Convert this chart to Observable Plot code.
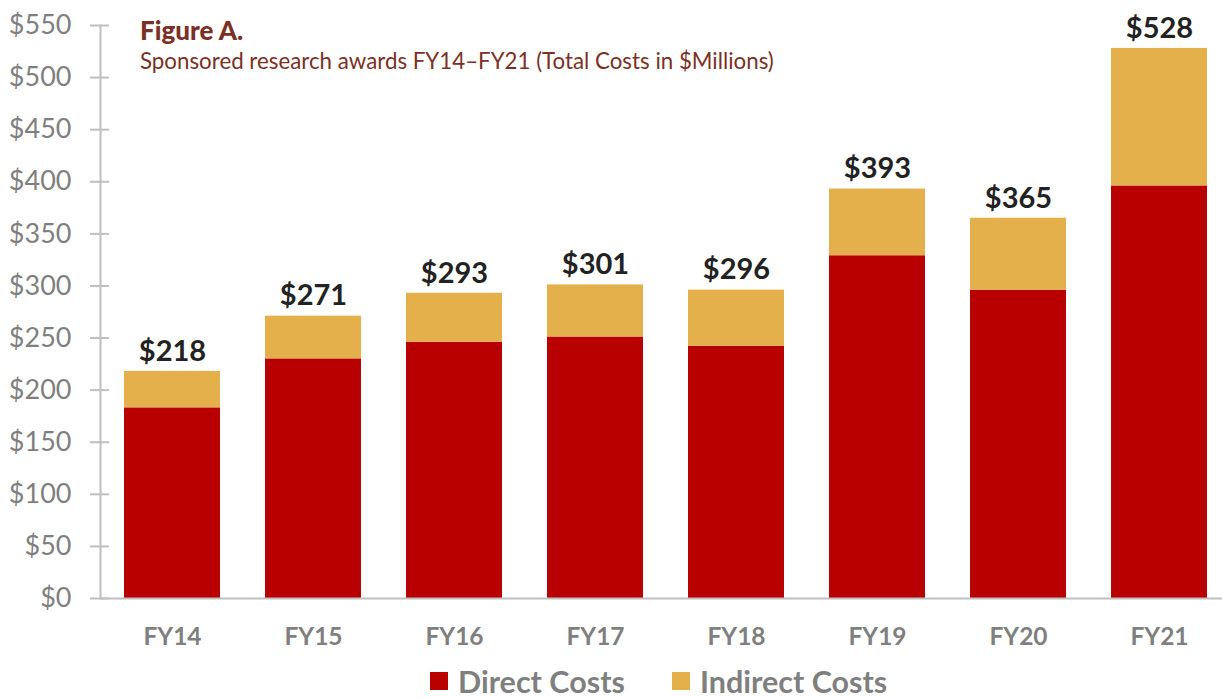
<!DOCTYPE html>
<html>
<head>
<meta charset="utf-8">
<script src="https://cdn.jsdelivr.net/npm/d3@7"></script>
<script src="https://cdn.jsdelivr.net/npm/@observablehq/plot@0.6"></script>
<style>
  body { margin: 0; background: #fff; }
  #wrap { position: relative; width: 1222px; height: 698px; overflow: hidden; font-family: Lato, sans-serif; }
  #title { position: absolute; left: 140px; top: 16px; color: #7B3026; }
  #title .t1 { font-family: Lato, sans-serif; font-weight: 900; font-size: 26px; line-height: 1.1; }
  #title .t2 { font-family: Lato, sans-serif; font-size: 22.3px; margin-top: 4px; line-height: 1.1; }
  #legend { position: absolute; left: 430px; top: 666px; display: flex; align-items: center; color: #7f7f7f; font-weight: bold; font-size: 30.5px; line-height: 1; }
  #legend .sw { width: 18px; height: 18px; display: inline-block; margin-right: 10px; }
  #legend .item { display: flex; align-items: center; margin-right: 47px; }
</style>
</head>
<body>
<div id="wrap">
  <div id="chart"></div>
  <div id="title"><div class="t1">Figure A.</div><div class="t2">Sponsored research awards FY14–FY21 (Total Costs in $Millions)</div></div>
  <div id="legend"></div>
</div>
<script>
const years = ["FY14", "FY15", "FY16", "FY17", "FY18", "FY19", "FY20", "FY21"];
const directCosts = [183, 230, 246, 251, 242, 329, 296, 396];
const indirectCosts = [35, 41, 47, 50, 54, 64, 69, 132];
const totals = [218, 271, 293, 301, 296, 393, 365, 528];
const seriesNames = ["Direct Costs", "Indirect Costs"];
const seriesColors = ["#B80000", "#E3B04B"];
const yTicks = [0, 50, 100, 150, 200, 250, 300, 350, 400, 450, 500, 550];

const rows = [];
years.forEach((y, i) => {
  rows.push({year: y, type: seriesNames[0], value: directCosts[i]});
  rows.push({year: y, type: seriesNames[1], value: indirectCosts[i]});
});
const totalRows = years.map((y, i) => ({year: y, total: totals[i]}));

const plot = Plot.plot({
  width: 1222,
  height: 660,
  marginLeft: 100,
  marginRight: 0,
  marginTop: 25,
  marginBottom: 62,
  style: {fontFamily: "Lato, sans-serif", background: "transparent", overflow: "visible"},
  x: {domain: years, range: [100, 1231], paddingInner: 0.32, paddingOuter: 0.155, label: null},
  y: {domain: [0, 550], label: null},
  color: {domain: seriesNames, range: seriesColors},
  marks: [
    Plot.barY(rows, {x: "year", y: "value", fill: "type"}),
    Plot.ruleY([0], {stroke: "#bfbfbf", strokeWidth: 2}),
    Plot.frame({anchor: "left", stroke: "#bfbfbf", strokeWidth: 2}),
    Plot.axisY({ticks: yTicks, tickSize: 19, dx: 9, tickFormat: () => "", stroke: "#bfbfbf", strokeWidth: 2}),
    Plot.axisY({ticks: yTicks, tickSize: 0, tickPadding: 29, tickFormat: d => "$" + d, fontSize: 27, fill: "#7f7f7f"}),
    Plot.axisX({tickSize: 0, tickPadding: 29, fontSize: 24.5, fontWeight: "bold", fill: "#7f7f7f"}),
    Plot.text(totalRows, {x: "year", y: "total", text: d => "$" + d.total, dy: -20, fontSize: 29, fontWeight: "bold", fill: "#222"})
  ]
});
document.getElementById("chart").appendChild(plot);

const legend = document.getElementById("legend");
seriesNames.forEach((n, i) => {
  const it = document.createElement("div");
  it.className = "item";
  const sw = document.createElement("span");
  sw.className = "sw";
  sw.style.background = seriesColors[i];
  it.appendChild(sw);
  it.appendChild(document.createTextNode(n));
  legend.appendChild(it);
});
</script>
</body>
</html>
